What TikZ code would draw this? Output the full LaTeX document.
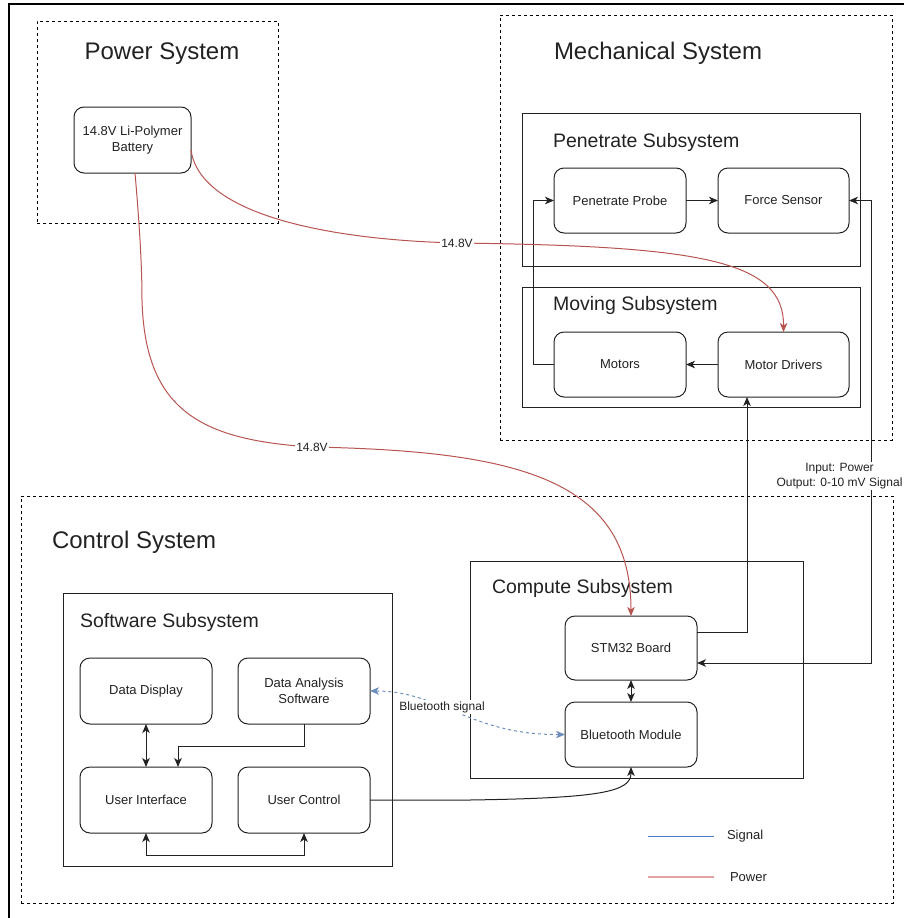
\documentclass[tikz,border=0pt]{standalone}
\usepackage{fontspec}
\setmainfont{Liberation Sans}
\usetikzlibrary{arrows.meta}
\definecolor{pwr}{HTML}{B85450}
\definecolor{sig}{HTML}{6C8EBF}
\definecolor{legpwr}{HTML}{E3A3A3}
\definecolor{legsig}{HTML}{4A78C8}
\definecolor{ln}{HTML}{222222}
\begin{document}
\begin{tikzpicture}[x=1pt,y=-1pt,
  every node/.style={inner sep=0pt, outer sep=0pt, text=ln},
  blk/.style={draw=ln, line width=1pt, rounded corners=10pt, align=center,
    font=\fontsize{13}{15.5}\selectfont, fill=white},
  cont/.style={draw=ln, line width=1pt},
  dcont/.style={draw=black, line width=1pt, dash pattern=on 3pt off 3pt},
  bigtitle/.style={font=\fontsize{24}{28}\selectfont},
  subtitle/.style={font=\fontsize{19.5}{23}\selectfont, anchor=west},
  tip/.style={draw=ln, line width=1pt, -{Stealth[length=9pt,width=7.5pt,inset=2.5pt]}},
  both/.style={draw=ln, line width=1pt, {Stealth[length=9pt,width=7.5pt,inset=2.5pt]}-{Stealth[length=9pt,width=7.5pt,inset=2.5pt]}},
  wire/.style={draw=pwr, line width=1pt, -{Stealth[length=9pt,width=7.5pt,inset=2.5pt]}},
  sigl/.style={draw=sig, line width=1pt, dash pattern=on 3pt off 3pt,
    {Stealth[length=9pt,width=7.5pt,inset=2.5pt]}-{Stealth[length=9pt,width=7.5pt,inset=2.5pt]}},
  vlab/.style={fill=white, inner sep=1pt, font=\fontsize{12}{14}\selectfont},
  lab/.style={fill=white, inner sep=1.5pt, font=\fontsize{12}{15}\selectfont, align=center},
  legtext/.style={anchor=west, font=\fontsize{13}{15}\selectfont}
]
\useasboundingbox (0,0) rectangle (903,918);
% outer frame
\draw[line width=1.2pt, black] (9,930) -- (9,4) -- (915,4);

% containers
\node[dcont, minimum width=241pt, minimum height=202pt] (power) at (157.5,122) {};
\node[dcont, minimum width=392pt, minimum height=425pt] (mech) at (696,227.5) {};
\node[dcont, minimum width=872pt, minimum height=407pt] (ctrl) at (457,699.5) {};
\node[cont, minimum width=338pt, minimum height=153pt] (pen) at (691,189.5) {};
\node[cont, minimum width=338pt, minimum height=120pt] (mov) at (691,347) {};
\node[cont, minimum width=333pt, minimum height=217pt] (comp) at (636.5,669.5) {};
\node[cont, minimum width=329pt, minimum height=273pt] (soft) at (227.5,729.5) {};

% titles
\node[bigtitle] (tpow) at (162,54) {Power System};
\node[bigtitle, anchor=west] (tmech) at (554,53) {Mechanical System};
\node[bigtitle, anchor=west] (tctrl) at (52,542) {Control System};
\node[subtitle] (tpen) at (553,142) {Penetrate Subsystem};
\node[subtitle] (tmov) at (553,305) {Moving Subsystem};
\node[subtitle] (tcomp) at (492,588) {Compute Subsystem};
\node[subtitle] (tsoft) at (80,622) {Software Subsystem};

% blocks
\node[blk, minimum width=117pt, minimum height=66pt] (bat) at (132.5,140) {14.8V Li-Polymer\\Battery};
\node[blk, minimum width=132pt, minimum height=65pt] (probe) at (620,200.5) {Penetrate Probe};
\node[blk, minimum width=131pt, minimum height=65pt] (force) at (783.5,200.5) {Force Sensor};
\node[blk, minimum width=132pt, minimum height=65pt] (mot) at (620,364.5) {Motors};
\node[blk, minimum width=131pt, minimum height=65pt] (drv) at (783.5,364.5) {Motor Drivers};
\node[blk, minimum width=132pt, minimum height=64pt] (stm) at (631,648) {STM32 Board};
\node[blk, minimum width=132pt, minimum height=65pt] (bt) at (631,734.5) {Bluetooth Module};
\node[blk, minimum width=132pt, minimum height=66pt] (disp) at (146,691) {Data Display};
\node[blk, minimum width=132pt, minimum height=66pt] (dana) at (304,691) {Data Analysis\\Software};
\node[blk, minimum width=132pt, minimum height=66pt] (ui) at (146,800) {User Interface};
\node[blk, minimum width=132pt, minimum height=66pt] (uc) at (304,800) {User Control};

% mechanical connectors
\draw[tip] (probe) -- (force);
\draw[tip] (drv) -- (mot);
\draw[tip] (mot.west) -- ++(-21,0) |- (probe.west);

% control connectors
\draw[both] (stm) -- (bt);
\draw[tip] ([yshift=16pt]stm.east) -| ([xshift=-36.5pt]drv.south);
\draw[both] (force.east) -- ++(22,0) |- ([yshift=-15pt]stm.east);
\node[lab] (iolab) at (839.5,476) {Input: Power\\Output: 0-10 mV Signal};

% software connectors
\draw[both] (disp) -- (ui);
\draw[tip] (dana.south) -- ++(0,22) -| ([xshift=32pt]ui.north);
\draw[both] (ui.south) -- ++(0,22) -| (uc.south);
\draw[tip] (uc.east) -- (470,800) .. controls (600,798) and (631,792) .. (bt.south);

% bluetooth signal
\draw[sigl] (bt.west) .. controls (470,735) and (440,691) .. (dana.east);
\node[lab] (btlab) at (442,707) {Bluetooth signal};

% power wires
\draw[wire] ([yshift=-10pt]bat.east) .. controls (200,215) and (330,240) .. (457,243)
  node[vlab] (v1) {14.8V}
  .. controls (700,246) and (784,260) .. (drv.north);
\draw[wire] ([xshift=2.5pt]bat.south) .. controls (140,230) and (142,270) .. (142,300)
  .. controls (145,410) and (200,440) .. (312,447)
  node[vlab] (v2) {14.8V}
  .. controls (520,451) and (631,480) .. (stm.north);

% legend
\coordinate (ls1) at (648,836);
\coordinate (ls2) at (714,836);
\coordinate (lp1) at (648,877);
\coordinate (lp2) at (714,877);
\draw[legsig, line width=1pt] (ls1) -- (ls2);
\draw[legpwr, line width=1.4pt] (lp1) -- (lp2);
\node[legtext] (lsig) at (727,836) {Signal};
\node[legtext] (lpow) at (730,877) {Power};
\end{tikzpicture}
\end{document}
